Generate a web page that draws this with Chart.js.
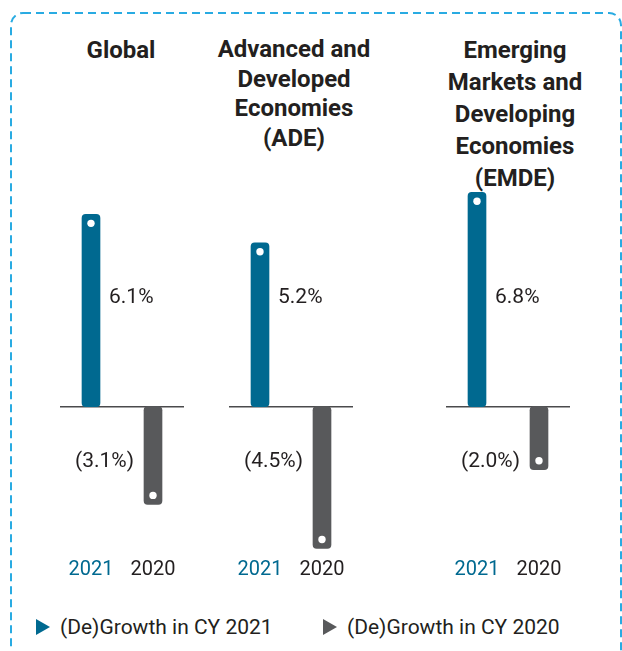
<!DOCTYPE html>
<html>
<head>
<meta charset="utf-8">
<script src="https://cdn.jsdelivr.net/npm/chart.js@4.4.0/dist/chart.umd.min.js"></script>
<style>
  body { margin: 0; width: 622px; height: 651px; overflow: hidden; background: #fff; position: relative;
         font-family: Roboto, "Noto Sans", sans-serif; color: #231f20; }
  .frame { position: absolute; left: 0; top: 0; }
  .title { position: absolute; width: 220px; text-align: center; font-weight: 700; font-size: 24px; }
  .panel { position: absolute; top: 186px; }
  .legend { position: absolute; top: 614px; height: 26px; font-size: 21px; display: flex; align-items: center; }
  .tri { width: 0; height: 0; border-top: 8px solid transparent; border-bottom: 8px solid transparent;
         border-left: 14px solid; margin-right: 10px; }
</style>
</head>
<body>
<svg class="frame" width="622" height="651">
  <rect x="11" y="13" width="610" height="650" rx="12" ry="12" fill="none"
        stroke="#29abe2" stroke-width="2" stroke-dasharray="8 5"/>
</svg>
<div id="titles"></div>
<div id="panels"></div>
<div id="legend"></div>

<script>
const regions = ['Global', 'ADE', 'EMDE'];
const regionTitles = [
  ['Global'],
  ['Advanced and', 'Developed', 'Economies', '(ADE)'],
  ['Emerging', 'Markets and', 'Developing', 'Economies', '(EMDE)']
];
const years = ['2021', '2020'];
const growth2021 = [6.1, 5.2, 6.8];
const growth2020 = [-3.1, -4.5, -2.0];
const legendLabels = ['(De)Growth in CY 2021', '(De)Growth in CY 2020'];

const BLUE = '#006990';
const GRAY = '#58595b';
const TEXT = '#231f20';

// panel placement on the page
const panelLeft = [60, 229, 446];
const titleCenter = [121, 294, 515];
const titleLineHeight = [30, 29.5, 32];

const fmt = v => v < 0 ? '(' + Math.abs(v).toFixed(1) + '%)' : v.toFixed(1) + '%';

// zero line, end dots and value labels
const barMarks = {
  id: 'barMarks',
  beforeDatasetsDraw(chart) {
    const { ctx, chartArea, scales } = chart;
    const y0 = scales.y.getPixelForValue(0);
    ctx.save();
    ctx.strokeStyle = '#4a4a4c';
    ctx.lineWidth = 1.5;
    ctx.beginPath();
    ctx.moveTo(chartArea.left - 1, y0);
    ctx.lineTo(chartArea.right, y0);
    ctx.stroke();
    ctx.restore();
  },
  afterDatasetsDraw(chart) {
    const { ctx, scales } = chart;
    const meta = chart.getDatasetMeta(0);
    const values = chart.data.datasets[0].data;
    ctx.save();
    meta.data.forEach((bar, i) => {
      const v = values[i];
      const half = bar.width / 2;
      const dotY = v >= 0 ? bar.y + 9 : bar.y - 9;
      ctx.fillStyle = '#fff';
      ctx.beginPath();
      ctx.arc(bar.x, dotY, 3.7, 0, Math.PI * 2);
      ctx.fill();

      ctx.fillStyle = TEXT;
      ctx.font = '21px Roboto';
      ctx.textBaseline = 'middle';
      if (v >= 0) {
        ctx.textAlign = 'left';
        ctx.fillText(fmt(v), bar.x + half + 9, scales.y.getPixelForValue(3.45));
      } else {
        ctx.textAlign = 'right';
        ctx.fillText(fmt(v), bar.x - half - 10, scales.y.getPixelForValue(-1.75));
      }
    });
    ctx.restore();
  }
};

const titlesEl = document.getElementById('titles');
const panelsEl = document.getElementById('panels');

regions.forEach((name, i) => {
  const t = document.createElement('div');
  t.className = 'title';
  t.style.left = (titleCenter[i] - 110) + 'px';
  t.style.lineHeight = titleLineHeight[i] + 'px';
  t.style.top = (50 - titleLineHeight[i] / 2) + 'px';
  t.innerHTML = regionTitles[i].join('<br>');
  titlesEl.appendChild(t);

  const canvas = document.createElement('canvas');
  canvas.className = 'panel';
  canvas.width = 124;
  canvas.height = 396;
  canvas.style.left = panelLeft[i] + 'px';
  panelsEl.appendChild(canvas);

  new Chart(canvas, {
    type: 'bar',
    data: {
      labels: years,
      datasets: [{
        label: name,
        data: [growth2021[i], growth2020[i]],
        backgroundColor: [BLUE, GRAY],
        borderRadius: 4,
        borderSkipped: false,
        barThickness: 18
      }]
    },
    options: {
      responsive: false,
      animation: false,
      layout: { padding: 0 },
      plugins: { legend: { display: false }, tooltip: { enabled: false } },
      scales: {
        x: {
          grid: { display: false, drawTicks: false },
          border: { display: false },
          ticks: {
            padding: 0,
            color: c => c.index === 0 ? BLUE : TEXT,
            font: { family: 'Roboto', size: 20 }
          }
        },
        y: { display: false, min: -4.8, max: 7 }
      }
    },
    plugins: [barMarks]
  });
});

// legend row
const legendEl = document.getElementById('legend');
const legendLeft = [36, 323];
[BLUE, GRAY].forEach((c, i) => {
  const item = document.createElement('div');
  item.className = 'legend';
  item.style.left = legendLeft[i] + 'px';
  item.innerHTML = '<span class="tri" style="border-left-color:' + c + '"></span><span>' + legendLabels[i] + '</span>';
  legendEl.appendChild(item);
});
</script>
</body>
</html>
